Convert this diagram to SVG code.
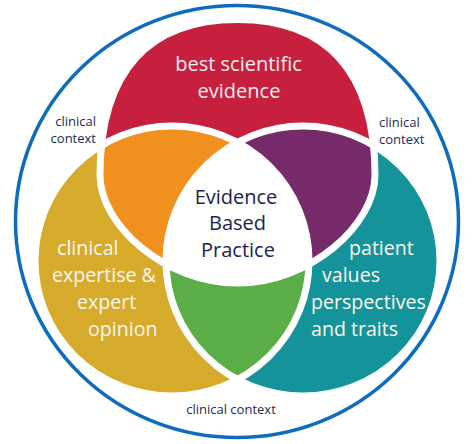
<svg xmlns="http://www.w3.org/2000/svg" xmlns:xlink="http://www.w3.org/1999/xlink" width="474" height="444" viewBox="0 0 474 444">
  <style>
    text { font-family: "Open Sans", "Noto Sans", "DejaVu Sans", sans-serif; }
    .w { fill: #fbf6ee; font-size: 19.6px; }
    .r { fill: #f8eef0; font-size: 20px; text-anchor: middle; }
    .c { fill: #1e2a52; font-size: 13px; }
    .m { fill: #1a2550; font-size: 20px; text-anchor: middle; }
    .gap { fill: none; stroke: #ffffff; stroke-width: 7; }
  </style>
  <defs>
    <path id="R" d="M237.5,19.5 C150,19.5 100,70 100,175 C100,225 165,283 237.5,283 C310,283 375,225 375,175 C375,70 325,19.5 237.5,19.5 Z"/>
    <ellipse id="Y" cx="172" cy="261" rx="137" ry="135"/>
    <ellipse id="T" cx="303" cy="261" rx="137" ry="135"/>
    <clipPath id="cR"><use href="#R" xlink:href="#R"/></clipPath>
    <clipPath id="cY"><use href="#Y" xlink:href="#Y"/></clipPath>
  </defs>
  <rect width="474" height="444" fill="#ffffff"/>
  <ellipse id="clinical-context-ring" cx="237" cy="221.5" rx="221.5" ry="216" fill="none" stroke="#0f6cbd" stroke-width="3.5"/>
  <g id="venn-regions">
    <use id="red-region" href="#R" xlink:href="#R" fill="#c71f3e"/>
    <use id="yellow-region" href="#Y" xlink:href="#Y" fill="#d6ab2c"/>
    <use id="teal-region" href="#T" xlink:href="#T" fill="#14949a"/>
    <g clip-path="url(#cR)"><use id="orange-overlap" href="#Y" xlink:href="#Y" fill="#f0901f"/></g>
    <g clip-path="url(#cR)"><use id="purple-overlap" href="#T" xlink:href="#T" fill="#772a69"/></g>
    <g clip-path="url(#cY)"><use id="green-overlap" href="#T" xlink:href="#T" fill="#5bae47"/></g>
    <g clip-path="url(#cR)"><g clip-path="url(#cY)"><use id="center-region" href="#T" xlink:href="#T" fill="#ffffff"/></g></g>
    <use class="gap" href="#R" xlink:href="#R"/>
    <use class="gap" href="#Y" xlink:href="#Y"/>
    <use class="gap" href="#T" xlink:href="#T"/>
  </g>
  <g id="node-best-scientific-evidence">
    <text class="r" x="238.5" y="71">best scientific</text>
    <text class="r" x="239" y="98">evidence</text>
  </g>
  <g id="node-clinical-expertise">
    <text class="w" x="57" y="255">clinical</text>
    <text class="w" x="52" y="282">expertise &amp;</text>
    <text class="w" x="77" y="309">expert</text>
    <text class="w" x="88" y="336">opinion</text>
  </g>
  <g id="node-patient-values">
    <text class="w" x="349" y="255">patient</text>
    <text class="w" x="322" y="282">values</text>
    <text class="w" x="311" y="309">perspectives</text>
    <text class="w" x="311" y="336">and traits</text>
  </g>
  <g id="node-evidence-based-practice">
    <text class="m" x="236" y="204">Evidence</text>
    <text class="m" x="237.5" y="230">Based</text>
    <text class="m" x="238" y="257">Practice</text>
  </g>
  <g id="label-clinical-context-left">
    <text class="c" x="96" y="126" text-anchor="end">clinical</text>
    <text class="c" x="96" y="143" text-anchor="end">context</text>
  </g>
  <g id="label-clinical-context-right">
    <text class="c" x="379" y="127">clinical</text>
    <text class="c" x="379" y="144">context</text>
  </g>
  <g id="label-clinical-context-bottom">
    <text class="c" x="231" y="414" text-anchor="middle">clinical context</text>
  </g>
</svg>
